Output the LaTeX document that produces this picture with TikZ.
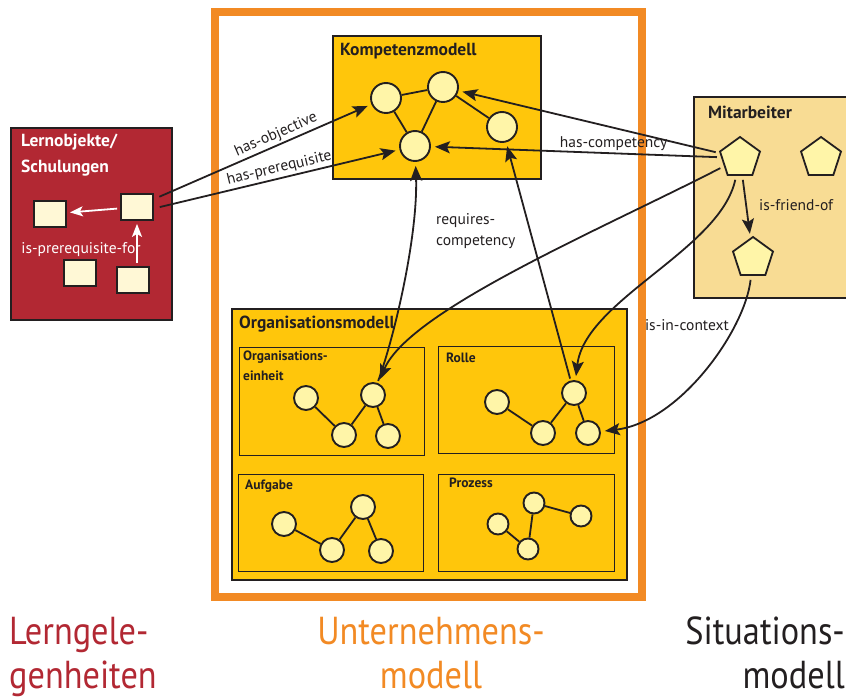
\documentclass[tikz,border=0pt]{standalone}
\usepackage{fontspec}
\setmainfont{PT Sans}
\newfontfamily\bigfont[FakeStretch=0.88]{PT Sans}
\usetikzlibrary{arrows.meta,shapes.geometric}
\definecolor{lernred}{HTML}{B22833}
\definecolor{gold}{HTML}{FFC60B}
\definecolor{tanfill}{HTML}{F8DC94}
\definecolor{cream}{HTML}{FFF5A8}
\definecolor{paper}{HTML}{FFF8D6}
\definecolor{frameorange}{HTML}{F28A24}
\definecolor{ink}{HTML}{231F20}
\begin{document}
\begin{tikzpicture}[x=1pt,y=-1pt,
  panel/.style={draw=ink, line width=1.8pt},
  subpanel/.style={draw=ink, line width=1pt},
  title/.style={font=\fontsize{17.5}{20}\selectfont\bfseries, text=ink, inner sep=0pt, anchor=north west},
  subtitle/.style={font=\fontsize{13.5}{20}\selectfont\bfseries, text=ink, inner sep=0pt, anchor=north west, align=left},
  ball/.style={circle, draw=ink, fill=cream, line width=1.9pt, minimum size=#1, inner sep=0pt},
  ball/.default=24pt,
  doc/.style={rectangle, draw=ink, fill=paper, line width=1.8pt, minimum width=32pt, minimum height=26pt, inner sep=0pt},
  person/.style={regular polygon, regular polygon sides=5, draw=ink, fill=cream, line width=1.8pt, minimum size=42pt, inner sep=0pt},
  link/.style={draw=ink, line width=1.8pt},
  arr/.style={draw=ink, line width=1.8pt, -{Stealth[length=15pt,width=12pt,inset=3pt]}, shorten >=4pt, shorten <=4pt},
  warr/.style={draw=white, line width=1.8pt, -{Stealth[length=13pt,width=10pt,inset=3pt]}, shorten >=3pt, shorten <=3pt},
  lbl/.style={font=\fontsize{15.5}{18}\selectfont, text=ink, inner sep=2pt},
  big/.style={font=\bigfont\fontsize{39}{44}\selectfont, inner sep=0pt}
]
\useasboundingbox (0,0) rectangle (846,700);

% enterprise model frame
\draw[frameorange, line width=8pt] (215,12) rectangle (642,597);

% learning objects panel
\draw[panel, fill=lernred] (11,128) rectangle (172,320);
\node[title, text=white, align=left, font=\fontsize{17.5}{26}\selectfont\bfseries] (lotitle) at (21,134) {Lernobjekte/\\Schulungen};
\node[doc] (d1) at (50,214) {};
\node[doc] (d2) at (137,207) {};
\node[doc] (d3) at (80,273) {};
\node[doc] (d4) at (133,280) {};
\draw[warr] (d2) -- (d1);
\draw[warr] (d4.north -| d2) -- (d2.south);
\node[lbl, text=white] (prereq) at (81,250) {is-prerequisite-for};

% competence model panel
\draw[panel, fill=gold] (333,36) rectangle (541,179);
\node[title] (kt) at (340,43) {Kompetenzmodell};
\node[ball=30pt] (k1) at (386,98) {};
\node[ball=30pt] (k2) at (443,87) {};
\node[ball=30pt] (k3) at (502,127) {};
\node[ball=30pt] (k4) at (415,146) {};
\draw[link] (k1) -- (k2);
\draw[link] (k2) -- (k3);
\draw[link] (k1) -- (k4);
\draw[link] (k2) -- (k4);

% employee panel
\draw[panel, fill=tanfill] (694,97) rectangle (856,298);
\node[title] (mt) at (708,106) {Mitarbeiter};
\node[person] (p1) at (740,158) {};
\node[person] (p2) at (821,158) {};
\node[person] (p3) at (753,258) {};
\draw[arr] (p1) -- (p3);
\node[lbl, anchor=west, inner sep=0pt] (friend) at (759,205) {is-friend-of};

% organisation model panel
\draw[panel, fill=gold] (232,309) rectangle (627,580);
\node[title] (ot) at (239,316) {Organisationsmodell};
\draw[subpanel] (239,348) rectangle (424,455);
\draw[subpanel] (438,347) rectangle (614,453);
\draw[subpanel] (238,474) rectangle (423,571);
\draw[subpanel] (438,474) rectangle (614,571);
\node[subtitle] (oet) at (243,351) {Organisations-\\einheit};
\node[subtitle] (rt) at (446,353) {Rolle};
\node[subtitle] (at) at (245,480) {Aufgabe};
\node[subtitle] (pt) at (449,478) {Prozess};

% organisational units
\node[ball] (o1) at (306,398) {};
\node[ball] (o2) at (373,395) {};
\node[ball] (o3) at (344,435) {};
\node[ball] (o4) at (388,436) {};
\draw[link] (o1) -- (o3);
\draw[link] (o3) -- (o2);
\draw[link] (o2) -- (o4);

% roles
\node[ball] (r1) at (497,402) {};
\node[ball] (r2) at (574,393) {};
\node[ball] (r3) at (543,433) {};
\node[ball] (r4) at (588,433) {};
\draw[link] (r1) -- (r3);
\draw[link] (r3) -- (r2);
\draw[link] (r2) -- (r4);

% tasks
\node[ball] (a1) at (284,524) {};
\node[ball] (a2) at (363,507) {};
\node[ball] (a3) at (332,550) {};
\node[ball] (a4) at (381,551) {};
\draw[link] (a1) -- (a3);
\draw[link] (a3) -- (a2);
\draw[link] (a2) -- (a4);

% processes
\node[ball=21pt] (q1) at (498,524) {};
\node[ball=21pt] (q2) at (534,503) {};
\node[ball=21pt] (q3) at (581,516) {};
\node[ball=21pt] (q4) at (528,549) {};
\draw[link] (q1) -- (q4);
\draw[link] (q4) -- (q2);
\draw[link] (q2) -- (q3);

% relations
\draw[arr, shorten <=6pt] (d2.25) -- node[lbl, sloped, above, pos=0.58] (hobj) {has-objective} (k1);
\draw[arr, shorten <=6pt] (d2.-5) -- node[lbl, sloped, above, pos=0.52] (hpre) {has-prerequisite} (k4);
\draw[arr] (p1) -- (k2);
\draw[arr] (p1) -- node[lbl, above, pos=0.37] (hcomp) {has-competency} (k4);
\draw[arr, shorten <=2pt] (o2) .. controls (395,335) and (418,235) .. (k4);
\draw[arr, shorten <=2pt] (r2) -- (k3);
\node[lbl, anchor=west, align=left, inner sep=0pt, font=\fontsize{15.5}{21}\selectfont] (reqc) at (436,231) {requires-\\competency};
\draw[arr] (p1) .. controls (600,230) and (410,310) .. (o2);
\draw[arr] (p1) .. controls (720,250) and (585,300) .. (r2);
\draw[arr] (p3) .. controls (745,330) and (680,422) .. (r4);
\node[lbl, anchor=east, inner sep=0pt] (ctx) at (729,325) {is-in-context};

% column captions
\node[big, text=lernred, anchor=north west, align=left] (cap1) at (9,617) {Lerngele-\\genheiten};
\node[big, text=frameorange, anchor=north, align=center] (cap2) at (431,617) {Unternehmens-\\modell};
\node[big, text=ink, anchor=north east, align=right] (cap3) at (845,617) {Situations-\\modell};
\end{tikzpicture}
\end{document}
